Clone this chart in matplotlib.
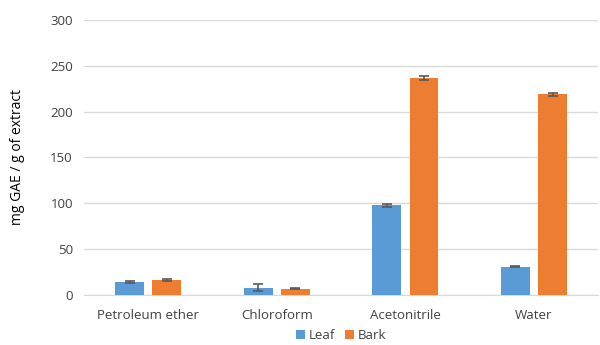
import matplotlib.pyplot as plt
import numpy as np

# data
categories = ["Petroleum ether", "Chloroform", "Acetonitrile", "Water"]
leaf = [14, 8, 98, 31]
bark = [16, 7, 237, 219]
leaf_err = [1, 4, 1.5, 1]
bark_err = [1, 1, 2, 1.5]

plt.rcParams['font.family'] = ['Open Sans', 'DejaVu Sans']

fig = plt.figure(figsize=(6, 3.45), dpi=100)
ax = fig.add_axes([0.14, 0.145, 0.857, 0.797])

x = np.arange(len(categories))
w = 0.225
off = 0.145
ekw = dict(ecolor="#595959", elinewidth=1.2, capsize=3.5, capthick=1.2)
ax.bar(x - off, leaf, w, yerr=leaf_err, color="#5B9BD5", label="Leaf", error_kw=ekw, zorder=3)
ax.bar(x + off, bark, w, yerr=bark_err, color="#ED7D31", label="Bark", error_kw=ekw, zorder=3)

ax.set_xlim(-0.5, 3.5)
ax.set_ylim(0, 300)
ax.set_yticks(range(0, 301, 50))
ax.set_xticks(x)
ax.set_xticklabels(categories)
ax.grid(axis="y", color="#D9D9D9", linewidth=1, zorder=0)
for s in ["top", "right", "left"]:
    ax.spines[s].set_visible(False)
ax.spines["bottom"].set_color("#D9D9D9")
ax.tick_params(length=0, labelsize=9.5, colors="#404040", pad=8)
ax.tick_params(axis="x", pad=10)
ax.set_ylabel("mg GAE / g of extract", fontsize=10, color="#000000", labelpad=18)

ax.legend(loc="upper center", bbox_to_anchor=(0.5, -0.09), ncol=2, frameon=False,
          fontsize=9.5, handlelength=0.7, handleheight=0.7, columnspacing=0.7,
          handletextpad=0.3, labelcolor="#404040", borderpad=0.2)

fig.savefig("out.png", dpi=100)
